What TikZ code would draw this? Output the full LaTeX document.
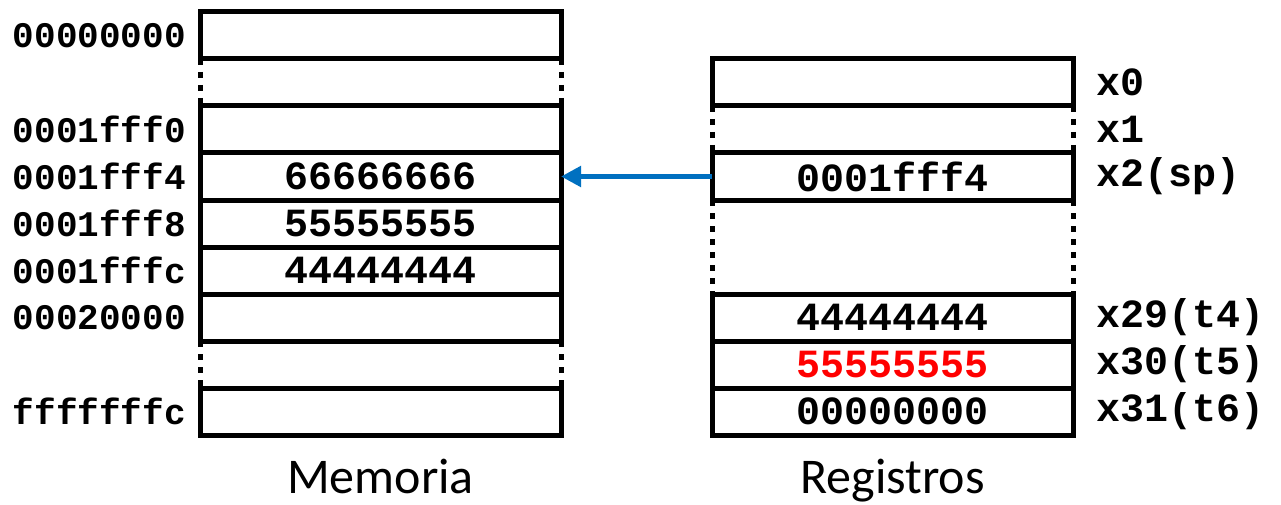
\documentclass[tikz,border=0pt]{standalone}
\usepackage{fontspec}
\setmainfont{Carlito}
\setmonofont{Liberation Mono}
\usetikzlibrary{positioning,arrows.meta}
\definecolor{ptrblue}{RGB}{0,112,192}
\tikzset{
  cell/.style={draw=black, line width=5pt, minimum width=361pt, minimum height=47pt, inner sep=0pt, outer sep=0pt, font=\fontsize{40}{44}\selectfont\ttfamily\bfseries},
  gap/.style={minimum width=361pt, minimum height=47pt, inner sep=0pt, outer sep=0pt},
  dots/.style={line width=5pt, dash pattern=on 6pt off 7pt},
  addr/.style={inner sep=0pt, font=\fontsize{36}{40}\selectfont\ttfamily\bfseries},
  reg/.style={inner sep=0pt, font=\fontsize{40}{44}\selectfont\ttfamily\bfseries},
  title/.style={inner sep=0pt, font=\fontsize{50}{56}\selectfont},
  ptr/.style={draw=ptrblue, line width=5pt, -{Triangle[length=20pt, width=20pt]}}
}

\begin{document}
\begin{tikzpicture}[x=1pt, y=-1pt]
  \useasboundingbox (0,0) rectangle (1281,505);
  % memoria
  \node[cell] (m0) at (380.5,35.5) {};
  \node[gap] (m1) at (380.5,82.5) {};
  \node[cell] (m2) at (380.5,129.5) {};
  \node[cell] (m3) at (380.5,176.5) {66666666};
  \node[cell] (m4) at (380.5,223.5) {55555555};
  \node[cell] (m5) at (380.5,270.5) {44444444};
  \node[cell] (m6) at (380.5,317.5) {};
  \node[gap] (m7) at (380.5,364.5) {};
  \node[cell] (m8) at (380.5,411.5) {};
  \draw[dots] (m1.north west) -- (m1.south west);
  \draw[dots] (m1.north east) -- (m1.south east);
  \draw[dots] (m7.north west) -- (m7.south west);
  \draw[dots] (m7.north east) -- (m7.south east);
  \node[addr, left=14pt of m0] {00000000};
  \node[addr, left=14pt of m2] {0001fff0};
  \node[addr, left=14pt of m3] {0001fff4};
  \node[addr, left=14pt of m4] {0001fff8};
  \node[addr, left=14pt of m5] {0001fffc};
  \node[addr, left=14pt of m6] {00020000};
  \node[addr, left=14pt of m8] {fffffffc};
  \node[title, below=24pt of m8] (mtitle) {Memoria};
  % registros
  \node[cell] (r1) at (892.5,82.5) {};
  \node[gap] (r2) at (892.5,129.5) {};
  \node[cell] (r3) at (892.5,176.5) {0001fff4};
  \node[gap, minimum height=94pt] (r4) at (892.5,247) {};
  \node[cell] (r6) at (892.5,317.5) {44444444};
  \node[cell, text=red] (r7) at (892.5,364.5) {55555555};
  \node[cell] (r8) at (892.5,411.5) {00000000};
  \draw[dots] (r2.north west) -- (r2.south west);
  \draw[dots] (r2.north east) -- (r2.south east);
  \draw[dots] (r4.north west) -- (r4.south west);
  \draw[dots] (r4.north east) -- (r4.south east);
  \node[reg, right=23pt of r1] {x0};
  \node[reg, right=23pt of r2] {x1};
  \node[reg, right=23pt of r3] {x2(sp)};
  \node[reg, right=23pt of r6] {x29(t4)};
  \node[reg, right=23pt of r7] {x30(t5)};
  \node[reg, right=23pt of r8] {x31(t6)};
  \node[title, below=24pt of r8] (rtitle) {Registros};
  % puntero sp
  \draw[ptr] (r3.west) -- (m3.east);
\end{tikzpicture}
\end{document}
